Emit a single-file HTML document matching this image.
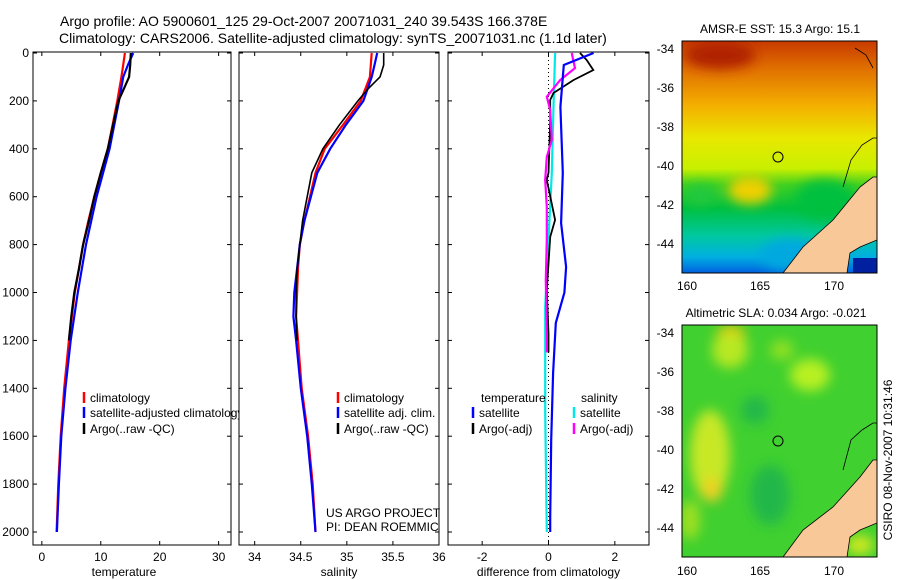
<!DOCTYPE html>
<html><head><meta charset="utf-8"><style>
body{margin:0;background:#fff;}
svg{display:block;font-family:"Liberation Sans",sans-serif;}
text{fill:#000;}
</style></head><body>
<svg id="chart" width="900" height="580" viewBox="0 0 900 580" xmlns="http://www.w3.org/2000/svg">
<defs>
<clipPath id="c1"><rect x="33" y="52" width="206" height="493"/></clipPath>
<clipPath id="c2"><rect x="239" y="52" width="200" height="493"/></clipPath>
<clipPath id="c3"><rect x="448" y="52" width="201" height="493"/></clipPath>
<linearGradient id="sstg" x1="0" y1="0" x2="0" y2="1">
<stop offset="0" stop-color="#c83a00"/><stop offset="0.12" stop-color="#e07000"/><stop offset="0.28" stop-color="#f4b000"/>
<stop offset="0.42" stop-color="#e8e800"/><stop offset="0.55" stop-color="#c8f000"/><stop offset="0.62" stop-color="#40d020"/>
<stop offset="0.72" stop-color="#00c040"/><stop offset="0.84" stop-color="#00c8a0"/><stop offset="0.93" stop-color="#00b0e0"/><stop offset="1" stop-color="#0060e0"/>
</linearGradient>
<filter id="bl"><feGaussianBlur stdDeviation="6"/></filter>
<clipPath id="m1"><rect x="682" y="41" width="195" height="232"/></clipPath>
<clipPath id="m2"><rect x="682" y="325" width="195" height="232"/></clipPath>
</defs>

<text x="60" y="26" font-size="14">Argo profile: AO 5900601_125 29-Oct-2007 20071031_240 39.543S 166.378E</text>
<text x="59" y="43" font-size="14">Climatology: CARS2006. Satellite-adjusted climatology: synTS_20071031.nc (1.1d later)</text>

<g id="panels"></g>

<!-- maps -->
<g>
<text x="780" y="33" font-size="12" text-anchor="middle">AMSR-E SST: 15.3 Argo: 15.1</text>
<g clip-path="url(#m1)">
<rect x="682" y="41" width="195" height="232" fill="url(#sstg)"/>
<g filter="url(#bl)">
<ellipse cx="720" cy="55" rx="35" ry="14" fill="#b02000"/>
<ellipse cx="750" cy="190" rx="22" ry="14" fill="#f0d000"/>
<ellipse cx="790" cy="255" rx="30" ry="16" fill="#00a8e0"/>
<ellipse cx="825" cy="200" rx="30" ry="20" fill="#00c040"/>
<ellipse cx="700" cy="195" rx="15" ry="10" fill="#20c840"/>
</g>
<rect x="853" y="258" width="24" height="15" fill="#0020a0"/>
<polygon points="783,273 803,247 833,220 860,187 873,177 877,177 877,240 860,247 850,253 847,273" fill="#f8c898" stroke="#000" stroke-width="0.8"/>
<polyline points="843,187 851,160 862,145 873,138 877,138" fill="none" stroke="#000" stroke-width="0.8"/>
<polyline points="855,48 866,55 873,68" fill="none" stroke="#000" stroke-width="0.8"/>
</g>
<rect x="682" y="41" width="195" height="232" fill="none" stroke="#000"/>
<circle cx="778" cy="157" r="5" fill="none" stroke="#000"/>
<g font-size="12" text-anchor="end">
<text x="674" y="53">-34</text><text x="674" y="92">-36</text><text x="674" y="131">-38</text><text x="674" y="170">-40</text><text x="674" y="209">-42</text><text x="674" y="248">-44</text>
</g>
<g font-size="12" text-anchor="middle"><text x="687" y="290">160</text><text x="760" y="290">165</text><text x="834" y="290">170</text></g>
</g>

<g>
<text x="776" y="317" font-size="12" text-anchor="middle">Altimetric SLA: 0.034 Argo: -0.021</text>
<g clip-path="url(#m2)">
<rect x="682" y="325" width="195" height="232" fill="#40d030"/>
<g filter="url(#bl)">
<ellipse cx="731" cy="335" rx="14" ry="10" fill="#f0c000"/>
<ellipse cx="730" cy="350" rx="18" ry="18" fill="#b8e820"/>
<ellipse cx="710" cy="455" rx="20" ry="45" fill="#c8e828"/>
<ellipse cx="712" cy="490" rx="10" ry="12" fill="#f0d020"/>
<ellipse cx="810" cy="375" rx="20" ry="16" fill="#b8f020"/>
<ellipse cx="782" cy="350" rx="12" ry="10" fill="#90e020"/>
<ellipse cx="755" cy="410" rx="14" ry="14" fill="#20b848"/>
<ellipse cx="770" cy="495" rx="20" ry="30" fill="#20b848"/>
<ellipse cx="690" cy="520" rx="10" ry="20" fill="#a0e020"/>
<ellipse cx="860" cy="545" rx="14" ry="10" fill="#d0e820"/>
</g>
<polygon points="783,557 803,530 833,507 860,477 873,460 877,460 877,523 860,530 850,537 847,557" fill="#f8c898" stroke="#000" stroke-width="0.8"/>
<polyline points="843,470 851,440 862,430 873,423 877,423" fill="none" stroke="#000" stroke-width="0.8"/>
</g>
<rect x="682" y="325" width="195" height="232" fill="none" stroke="#000"/>
<circle cx="778" cy="441" r="5" fill="none" stroke="#000"/>
<g font-size="12" text-anchor="end">
<text x="674" y="337">-34</text><text x="674" y="376">-36</text><text x="674" y="415">-38</text><text x="674" y="454">-40</text><text x="674" y="493">-42</text><text x="674" y="532">-44</text>
</g>
<g font-size="12" text-anchor="middle"><text x="687" y="575">160</text><text x="760" y="575">165</text><text x="834" y="575">170</text></g>
</g>
<text transform="translate(892,460) rotate(-90)" font-size="12" text-anchor="middle">CSIRO 08-Nov-2007 10:31:46</text>

<script>
const depthTicks=[0,200,400,600,800,1000,1200,1400,1600,1800,2000];
const tempTicks=[0,10,20,30];
const salTicks=[34,34.5,35,35.5,36];
const diffTicks=[-2,0,2];
const climDepth=[0,50,100,200,300,400,500,600,700,800,900,1000,1200,1400,1600,1800,2000];
const climTemp=[14.1,13.8,13.5,12.8,12.0,11.2,10.0,8.9,7.9,7.0,6.3,5.6,4.6,3.8,3.2,2.8,2.5];
const satTemp=[15.5,14.6,13.8,13.1,12.3,11.5,10.4,9.3,8.4,7.5,6.8,6.1,4.9,4.0,3.3,2.9,2.55];
const argoDepth=[0,50,100,150,200,300,400,500,600,700,800,900,1000,1100,1200];
const argoTemp=[15.1,15.0,14.8,13.9,13.0,12.1,11.2,10.0,8.9,8.0,7.0,6.3,5.5,5.0,4.6];
const salDepth=[0,50,100,200,300,400,500,600,700,800,900,1000,1100,1200,1400,1600,1800,2000];
const climSal=[35.27,35.26,35.25,35.15,34.96,34.76,34.66,34.60,34.54,34.49,34.47,34.46,34.45,34.47,34.51,34.58,34.63,34.66];
const satSal=[35.33,35.30,35.27,35.18,34.99,34.82,34.68,34.61,34.54,34.49,34.46,34.43,34.42,34.45,34.50,34.57,34.62,34.66];
const argoSal=[35.40,35.40,35.36,35.23,35.12,34.92,34.74,34.62,34.57,34.52,34.49,34.46,34.45,34.45,34.46];
const satTDiffDepth=[0,50,225,500,710,893,1000,1127,1336,1616,1937,2000];
const satTDiff=[1.36,0.46,0.36,0.43,0.38,0.53,0.48,0.22,0.14,0.08,0.05,0.05];
const argoTDiffDepth=[0,29,71,113,167,196,292,500,530,697,768,990,1170,1250];
const argoTDiff=[0.95,1.15,1.35,0.75,0.15,0.05,0.05,0.0,-0.05,0.2,0.05,-0.05,0.0,0.0];
const argoSDiffDepth=[0,63,113,183,238,363,434,530,643,780,948,1170,1250];
const argoSDiff=[0.7,0.8,0.35,-0.05,0.05,0.1,-0.05,-0.1,-0.05,-0.05,-0.08,-0.05,-0.05];
const satSDiffDepth=[0,225,500,780,1060,1500,2000];
const satSDiff=[0.2,0.15,0.1,0.0,-0.1,-0.1,-0.05];

const NS='http://www.w3.org/2000/svg';
const root=document.getElementById('panels');
const Y0=53,YS=0.2395,TOP=52,BOT=545;
function y(d){return Y0+d*YS;}
function mk(tag,attrs,parent){const e=document.createElementNS(NS,tag);for(const k in attrs)e.setAttribute(k,attrs[k]);(parent||root).appendChild(e);return e;}
const panels=[
 {x0:33,x1:231,min:-1.5,max:32.1,ticks:tempTicks,title:'temperature',clip:'c1'},
 {x0:239,x1:439,min:33.83,max:36.0,ticks:salTicks,title:'salinity',clip:'c2'},
 {x0:448,x1:649,min:-3.03,max:3.03,ticks:diffTicks,title:'difference from climatology',clip:'c3'}
];
function xf(p,v){return p.x0+(v-p.min)/(p.max-p.min)*(p.x1-p.x0);}
panels.forEach((p,i)=>{
  const g=mk('g',{});
  
  
  const fr=mk('rect',{x:p.x0,y:TOP,width:p.x1-p.x0,height:BOT-TOP,fill:'none',stroke:'#000','stroke-width':1},g);
  
  
  p.ticks.forEach(t=>{const X=xf(p,t);
    mk('line',{x1:X,x2:X,y1:BOT,y2:BOT-4,stroke:'#000'},g);
    mk('line',{x1:X,x2:X,y1:TOP,y2:TOP+4,stroke:'#000'},g);
    const tx=mk('text',{x:X,y:561,'font-size':12,'text-anchor':'middle'},g);tx.textContent=t;
    
    
  });
  depthTicks.forEach(d=>{const Y=y(d);
    mk('line',{x1:p.x0,x2:p.x0+4,y1:Y,y2:Y,stroke:'#000'},g);
    mk('line',{x1:p.x1,x2:p.x1-4,y1:Y,y2:Y,stroke:'#000'},g);
    if(i===0){const tx=mk('text',{x:29,y:Y+4,'font-size':12,'text-anchor':'end'},g);tx.textContent=d;
      
      }
  });
  const at=mk('text',{x:(p.x0+p.x1)/2-(i===0?8:0),y:576,'font-size':12,'text-anchor':'middle'},g);at.textContent=p.title;
  
  
});
function line(p,depths,vals,color,name,w){
  const pts=depths.map((d,i)=>xf(p,vals[i]).toFixed(1)+','+y(d).toFixed(1)).join(' ');
  const e=mk('polyline',{points:pts,fill:'none',stroke:color,'stroke-width':w||2.2,'clip-path':'url(#'+p.clip+')'});
  
  
}
const P=panels;
// zero line in diff panel
const z=mk('line',{x1:xf(P[2],0),x2:xf(P[2],0),y1:TOP,y2:BOT,stroke:'#000','stroke-dasharray':'1,3'});


line(P[0],climDepth,climTemp,'#f00','temp-climatology-line');
line(P[0],climDepth,satTemp,'#00f','temp-satellite-line');
line(P[0],argoDepth,argoTemp,'#000','temp-argo-line');
line(P[1],salDepth,climSal,'#f00','sal-climatology-line');
line(P[1],salDepth,satSal,'#00f','sal-satellite-line');
line(P[1],argoDepth,argoSal,'#000','sal-argo-line',1.6);
line(P[2],satSDiffDepth,satSDiff,'#00e8e8','sal-satellite-diff-line');
line(P[2],argoTDiffDepth,argoTDiff,'#000','temp-argo-diff-line',1.8);
line(P[2],argoSDiffDepth,argoSDiff,'#f0f','sal-argo-diff-line');
line(P[2],satTDiffDepth,satTDiff,'#00f','temp-satellite-diff-line');
function leg(x,yy,color,label,name,clip){
  const g=mk('g',clip?{'clip-path':'url(#'+clip+')'}:{});
  
  
  if(color)mk('line',{x1:x,x2:x,y1:yy-10,y2:yy+1,stroke:color,'stroke-width':2.5},g);
  const t=mk('text',{x:x+6,y:yy,'font-size':12},g);t.textContent=label;
}
leg(84,402,'#f00','climatology','legend-climatology','c1');
leg(84,417,'#00f','satellite-adjusted climatology','legend-satellite-adjusted','c1');
leg(84,433,'#000','Argo(..raw -QC)','legend-argo');
leg(338,402,'#f00','climatology','legend-sal-climatology');
leg(338,417,'#00f','satellite adj. clim.','legend-sal-satellite');
leg(338,433,'#000','Argo(..raw -QC)','legend-sal-argo');
leg(475,402,null,'temperature','legend-temp-header');
leg(473,417,'#00f','satellite','legend-diff-temp-satellite');
leg(473,433,'#000','Argo(-adj)','legend-diff-temp-argo');
leg(575,402,null,'salinity','legend-sal-header');
leg(574,417,'#00e8e8','satellite','legend-diff-sal-satellite');
leg(574,433,'#f0f','Argo(-adj)','legend-diff-sal-argo');
const c1=mk('text',{x:326,y:517,'font-size':12});c1.textContent='US ARGO PROJECT';


const c2=mk('text',{x:326,y:531,'font-size':12,'clip-path':'url(#c2)'});c2.textContent='PI: DEAN ROEMMICH';


</script>
</svg>
</body></html>
